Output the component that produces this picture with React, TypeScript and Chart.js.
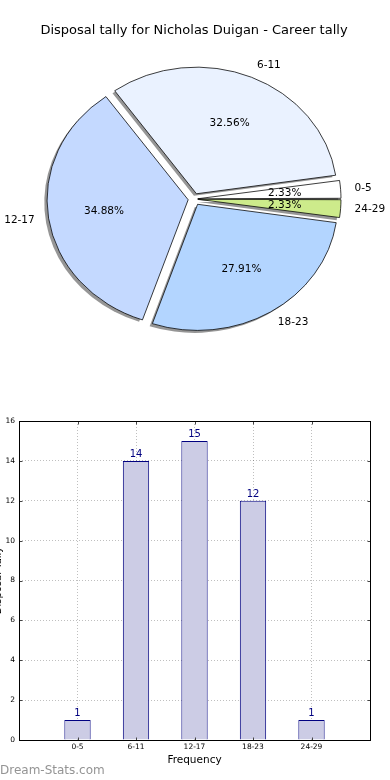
import React, { useEffect, useRef } from 'react';
import { Chart, registerables } from 'chart.js';

Chart.register(...registerables);

const FONT = 'DejaVu Sans';
Chart.defaults.font.family = FONT;
Chart.defaults.color = '#000';

// ---------- data ----------
const TITLE = 'Disposal tally for Nicholas Duigan - Career tally';
const categories = ['0-5', '6-11', '12-17', '18-23', '24-29'];
const tallies = [1, 14, 15, 12, 1];
const pieColors = ['#ffffff', '#eaf2ff', '#c4d9ff', '#b3d5ff', '#cdeb8b'];
const X_TITLE = 'Frequency';
const Y_TITLE = 'Disposal Tally';
const Y_MIN = 0;
const Y_MAX = 16;
const Y_STEP = 2;
const WATERMARK = 'Dream-Stats.com';

// ---------- pie geometry (styles) ----------
const PIE_R = 140;
const SY = 0.9; // vertical squash (ellipse)
const EXPLODE = 7;
const SHADOW_DX = -2.8;
const SHADOW_DY = 2.5;

const total = tallies.reduce((a, b) => a + b, 0);
const pieOrder = categories.map((_, i) => i).reverse();

const piePlugin = {
  id: 'pieShape',
  beforeDatasetsDraw(chart: any) {
    const ctx = chart.ctx;
    const arcs = chart.getDatasetMeta(0).data;
    ctx.save();
    if (!arcs.length) return;
    const cx = arcs[0].x;
    const cy = arcs[0].y;
    ctx.translate(cx, cy);
    ctx.scale(1, SY);
    ctx.translate(-cx, -cy);
    ctx.fillStyle = 'rgba(45,45,45,0.5)';
    arcs.forEach((a: any) => {
      const mid = (a.startAngle + a.endAngle) / 2;
      const ox = cx + Math.cos(mid) * EXPLODE + SHADOW_DX;
      const oy = cy + Math.sin(mid) * EXPLODE + SHADOW_DY / SY;
      ctx.beginPath();
      ctx.moveTo(ox, oy);
      ctx.arc(ox, oy, a.outerRadius, a.startAngle, a.endAngle);
      ctx.closePath();
      ctx.fill();
    });
  },
  afterDatasetsDraw(chart: any) {
    const ctx = chart.ctx;
    ctx.restore();
    const arcs = chart.getDatasetMeta(0).data;
    const values = chart.data.datasets[0].data;
    const labels = chart.data.labels;
    ctx.save();
    ctx.fillStyle = '#000';
    ctx.font = `10.5px "${FONT}"`;
    ctx.textBaseline = 'middle';
    arcs.forEach((a: any, i: number) => {
      const mid = (a.startAngle + a.endAngle) / 2;
      const c = Math.cos(mid);
      const s = Math.sin(mid);
      const ex = a.x + c * EXPLODE;
      const ey = a.y + s * EXPLODE * SY;
      const R = a.outerRadius;
      ctx.textAlign = c > 0 ? 'left' : 'right';
      ctx.fillText(labels[i], ex + 1.1 * R * c, ey + 1.1 * R * SY * s);
      ctx.textAlign = 'center';
      const pct = ((values[i] / total) * 100).toFixed(2) + '%';
      ctx.fillText(pct, ex + 0.6 * R * c, ey + 0.6 * R * SY * s);
    });
    ctx.restore();
  },
};

const barPlugin = {
  id: 'barExtras',
  afterDatasetsDraw(chart: any) {
    const ctx = chart.ctx;
    const bars = chart.getDatasetMeta(0).data;
    const ds = chart.data.datasets[0].data;
    ctx.save();
    ctx.fillStyle = '#000080';
    ctx.font = `10px "${FONT}"`;
    ctx.textAlign = 'center';
    ctx.textBaseline = 'alphabetic';
    bars.forEach((b: any, i: number) => {
      ctx.fillText(String(ds[i].y), b.x, b.y - 4);
    });
    ctx.restore();
  },
  afterDraw(chart: any) {
    const ctx = chart.ctx;
    const { left, right, top, bottom } = chart.chartArea;
    const L = Math.round(left) + 0.5;
    const R = Math.round(right) + 0.5;
    const T = Math.round(top) + 0.5;
    const B = Math.round(bottom) + 0.5;
    ctx.save();
    // inner ticks
    ctx.strokeStyle = '#444';
    ctx.lineWidth = 1;
    const ys = chart.scales.y;
    const xs = chart.scales.x;
    ctx.beginPath();
    for (let v = Y_MIN; v <= Y_MAX; v += Y_STEP) {
      const py = Math.round(ys.getPixelForValue(v)) + 0.5;
      ctx.moveTo(L, py); ctx.lineTo(L + 3, py);
      ctx.moveTo(R, py); ctx.lineTo(R - 3, py);
    }
    categories.forEach((_, i) => {
      const px = Math.round(xs.getPixelForValue(i)) + 0.5;
      ctx.moveTo(px, B); ctx.lineTo(px, B - 3);
      ctx.moveTo(px, T); ctx.lineTo(px, T + 3);
    });
    ctx.stroke();
    // frame
    ctx.strokeStyle = '#000';
    ctx.strokeRect(L, T, R - L, B - T);
    // watermark
    ctx.fillStyle = '#949494';
    ctx.font = `12px "${FONT}"`;
    ctx.textAlign = 'left';
    ctx.textBaseline = 'middle';
    ctx.fillText(WATERMARK, 0, 381);
    ctx.restore();
  },
};

export default function App() {
  const pieRef = useRef<HTMLCanvasElement>(null);
  const barRef = useRef<HTMLCanvasElement>(null);

  useEffect(() => {
    const pie = new Chart(pieRef.current as HTMLCanvasElement, {
      type: 'pie',
      data: {
        labels: pieOrder.map((i) => categories[i]),
        datasets: [
          {
            data: pieOrder.map((i) => tallies[i]),
            backgroundColor: pieOrder.map((i) => pieColors[i]),
            borderColor: '#000',
            borderWidth: 0.8,
            radius: PIE_R,
            hoverOffset: 0,
            offset: (c: any) => {
              const v = c.raw as number;
              const circ = (v / total) * Math.PI * 2;
              const fix = 1 - Math.sin(Math.min(Math.PI, circ));
              return (4 * EXPLODE) / (1 + fix);
            },
          } as any,
        ],
      },
      options: {
        responsive: false,
        animation: false,
        rotation: 90,
        layout: { padding: { left: 20, right: 22, top: 0, bottom: 39.6 } },
        plugins: {
          legend: { display: false },
          tooltip: { enabled: false },
          title: {
            display: true,
            text: TITLE,
            color: '#000',
            font: { family: FONT, size: 13, weight: 'normal' as any, lineHeight: 1.2 },
            padding: { top: 23, bottom: 9 },
          },
        },
      },
      plugins: [piePlugin],
    });

    const bar = new Chart(barRef.current as HTMLCanvasElement, {
      type: 'bar',
      data: {
        datasets: [
          {
            data: categories.map((_, i) => ({ x: i, y: tallies[i] })),
            backgroundColor: '#ccccE5',
            borderColor: '#000080',
            borderWidth: 1,
            barPercentage: 0.45,
            categoryPercentage: 1,
          } as any,
        ],
      },
      options: {
        responsive: false,
        animation: false,
        layout: { padding: { top: 31, right: 20, left: 0, bottom: 0 } },
        plugins: { legend: { display: false }, tooltip: { enabled: false } },
        scales: {
          x: {
            type: 'linear',
            offset: false,
            min: -1,
            max: categories.length,
            afterFit: (s: any) => { s.height = 40; },
            ticks: {
              stepSize: 1,
              autoSkip: false,
              maxRotation: 0,
              padding: 3,
              color: '#000',
              font: { family: FONT, size: 7.5 },
              callback: (v: any) => categories[v] ?? '',
            },
            grid: { color: 'rgba(0,0,0,0.25)', drawTicks: false, lineWidth: 1, offset: false },
            border: { display: false, dash: [1, 2] },
            title: {
              display: true,
              text: X_TITLE,
              color: '#000',
              font: { family: FONT, size: 10.5, lineHeight: 1.2 },
              padding: { top: 0, bottom: 13.7 },
            },
          },
          y: {
            type: 'linear',
            min: Y_MIN,
            max: Y_MAX,
            afterFit: (s: any) => { s.width = 19; },
            ticks: {
              stepSize: Y_STEP,
              padding: 4,
              color: '#000',
              font: { family: FONT, size: 7.5 },
            },
            grid: { color: 'rgba(0,0,0,0.25)', drawTicks: false, lineWidth: 1 },
            border: { display: false, dash: [1, 2] },
            title: {
              display: true,
              text: Y_TITLE,
              color: '#000',
              font: { family: FONT, size: 10, lineHeight: 1.2 },
              padding: { top: -7.5, bottom: 0 },
            },
          },
        },
      } as any,
      plugins: [barPlugin],
    });

    return () => {
      pie.destroy();
      bar.destroy();
    };
  }, []);

  return (
    <div style={{ position: 'absolute', left: 0, top: 0, width: 390, height: 780, background: '#fff' }}>
      <canvas ref={pieRef} width={390} height={390} style={{ display: 'block', width: 390, height: 390 }} />
      <canvas ref={barRef} width={390} height={390} style={{ display: 'block', width: 390, height: 390 }} />
    </div>
  );
}
